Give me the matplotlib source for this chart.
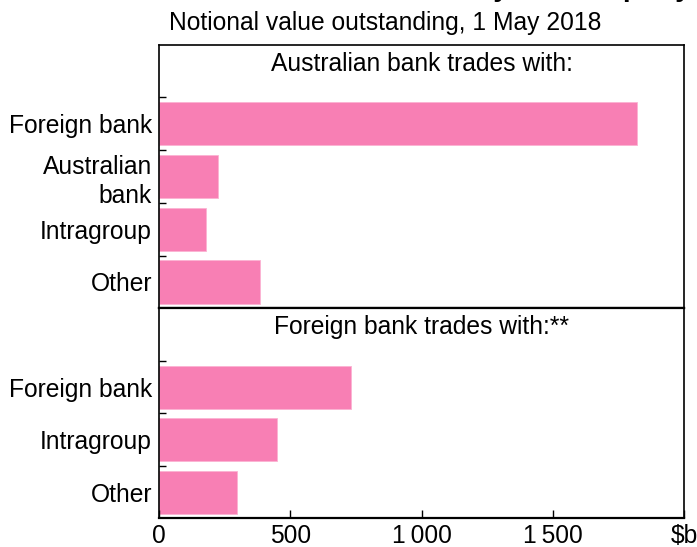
import matplotlib
matplotlib.use("Agg")
import matplotlib.pyplot as plt

plt.rcParams["font.family"] = ["Liberation Sans", "DejaVu Sans"]

# values in $b, notional value outstanding
aus_labels = ["Foreign bank", "Australian\nbank", "Intragroup", "Other"]
aus_values = [1819, 225, 179, 384]
for_labels = ["Foreign bank", "Intragroup", "Other"]
for_values = [732, 448, 297]

x_ticks = [0, 500, 1000, 1500, 2000]
x_ticklabels = ["0", "500", "1\u2009000", "1\u2009500", "$b"]

BAR = "#F87FB4"
FS = 17.7

fig = plt.figure(figsize=(6.97, 5.47), dpi=100)
left, right = 0.2281, 0.9818
mid, bot, top = 0.4364, 0.0525, 0.9183
ax1 = fig.add_axes([left, mid, right - left, top - mid])
ax2 = fig.add_axes([left, bot, right - left, mid - bot])


def panel(ax, labels, values, title, title_y):
    n = len(labels)
    pos = list(range(1, n + 1))
    ax.barh(pos, values, height=0.82, color=BAR, edgecolor="#FBB3D2", linewidth=0.6)
    ax.set_ylim(n + 0.5, -0.5)
    ax.set_xlim(0, 2000)
    ax.set_yticks([p - 0.5 for p in pos])
    ax.set_yticklabels([])
    ax.set_yticks(pos, minor=True)
    ax.set_yticklabels(labels, minor=True, fontsize=FS, linespacing=1.25)
    ax.tick_params(axis="y", which="major", direction="in", length=5, width=1)
    ax.tick_params(axis="y", which="minor", length=0, pad=5)
    for s in ax.spines.values():
        s.set_linewidth(1.2)
    ax.text(0.5, title_y, title, transform=ax.transAxes, ha="center", va="center",
            fontsize=FS)


panel(ax1, aus_labels, aus_values, "Australian bank trades with:", 0.927)
panel(ax2, for_labels, for_values, "Foreign bank trades with:**", 0.91)
ax1.spines["bottom"].set_linewidth(1.6)
ax2.spines["top"].set_linewidth(1.6)
ax2.spines["bottom"].set_linewidth(1.6)

ax1.set_xticks([])
ax2.set_xticks(x_ticks)
ax2.set_xticklabels(x_ticklabels, fontsize=FS)
ax2.tick_params(axis="x", direction="in", length=6, width=1, pad=4)

fig.text(0.553, 0.958, "Notional value outstanding, 1 May 2018", ha="center",
         va="center", fontsize=FS)
fig.text(0.60, 1.007, "Interest Rate Derivatives by Counterparty", ha="center",
         va="baseline", fontsize=20, fontweight="bold")

fig.savefig("out.png", dpi=100)
